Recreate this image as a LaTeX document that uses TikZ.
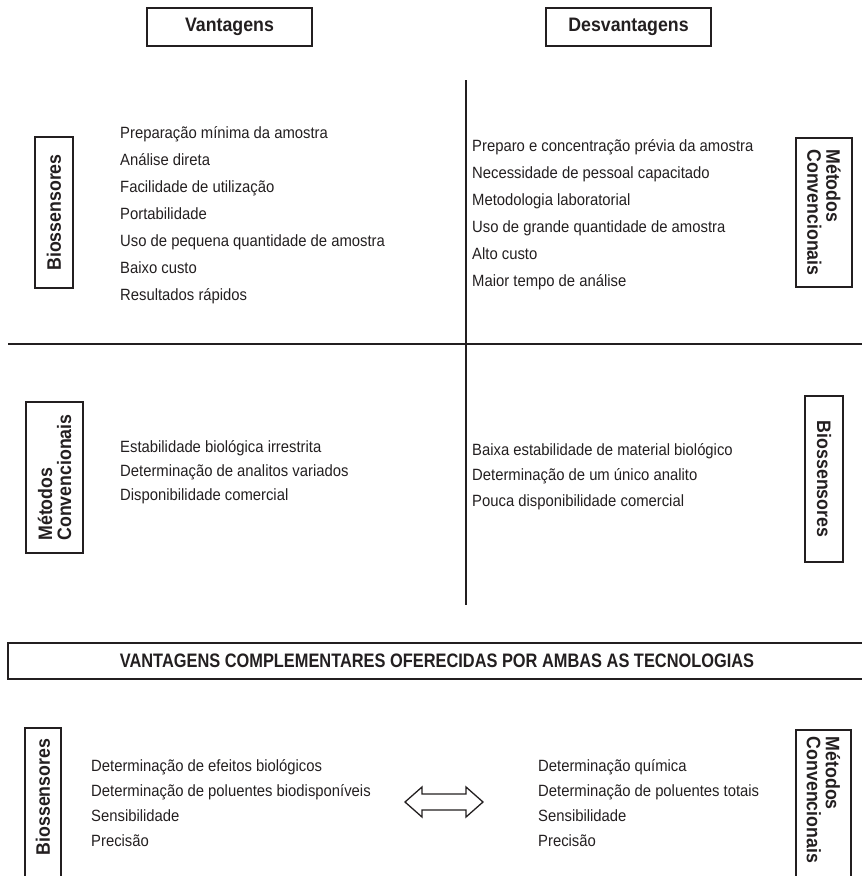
\documentclass[tikz,border=0pt]{standalone}
\usepackage{fontspec}
\setmainfont{Liberation Sans}[FakeStretch=0.91]
\newfontfamily\bannerfont{Liberation Sans}[FakeStretch=0.84]
\definecolor{ink}{HTML}{231F20}
\newcommand\myBody{\fontsize{16.3}{27}\selectfont}
\newcommand\myHead{\fontsize{19.5}{20}\selectfont\bfseries}
\newcommand\myBanner{\bannerfont\fontsize{19.5}{20}\selectfont\bfseries}
\begin{document}
\begin{tikzpicture}[x=1pt,y=-1pt,
  every node/.style={text=ink},
  frame/.style={draw=ink, line width=1.6pt},
  headbox/.style={frame, font=\myHead, minimum width=165pt, minimum height=38pt, inner sep=0pt},
  sidebox/.style={frame, font=\myHead, align=left, inner sep=0pt},
  sidetext/.style={font=\myHead, align=left, inner sep=0pt},
  listtext/.style={anchor=base west, inner sep=0pt, font=\myBody},
  crossline/.style={draw=ink, line width=2.4pt}]
\useasboundingbox (0,0) rectangle (862,876);

% header boxes
\node[headbox] (vant) at (229.5,27) {Vantagens};
\node[headbox] (desv) at (628.5,27) {Desvantagens};

% cross lines
\coordinate (vtop) at (466,80);
\coordinate (vbot) at (466,605);
\coordinate (hl) at (8,344);
\coordinate (hr) at (862,344);
\draw[crossline] (vtop) -- (vbot);
\draw[crossline] (hl) -- (hr);

% side boxes, upper half
\node[sidebox, rotate=90, minimum width=151pt, minimum height=38pt] (bioTL) at (54,212.5) {Biossensores};
\node[sidebox, rotate=-90, minimum width=149pt, minimum height=56pt] (metTR) at (824,212.5) {Métodos\\[-1pt]Convencionais};
% side boxes, lower half
\node[sidebox, rotate=90, minimum width=151pt, minimum height=57pt] (metBL) at (54.5,477.5) {Métodos\\[-1pt]Convencionais};
\node[sidebox, rotate=-90, minimum width=166pt, minimum height=38pt] (bioBR) at (824,479) {Biossensores};

% lists
\foreach \t [count=\i] in {Preparação mínima da amostra, Análise direta, Facilidade de utilização, Portabilidade, Uso de pequena quantidade de amostra, Baixo custo, Resultados rápidos}
  \node[listtext] (tl\i) at (120,{138+27*(\i-1)}) {\t};
\foreach \t [count=\i] in {Preparo e concentração prévia da amostra, Necessidade de pessoal capacitado, Metodologia laboratorial, Uso de grande quantidade de amostra, Alto custo, Maior tempo de análise}
  \node[listtext] (tr\i) at (472,{151+27*(\i-1)}) {\t};
\foreach \t [count=\i] in {Estabilidade biológica irrestrita, Determinação de analitos variados, Disponibilidade comercial}
  \node[listtext] (bl\i) at (120,{452+24*(\i-1)}) {\t};
\foreach \t [count=\i] in {Baixa estabilidade de material biológico, Determinação de um único analito, Pouca disponibilidade comercial}
  \node[listtext] (br\i) at (472,{455+25.5*(\i-1)}) {\t};

% banner
\draw[frame] (870,643) -| (8,679) -- (870,679);
\node[font=\myBanner, inner sep=0pt] (banner) at (437,661) {VANTAGENS COMPLEMENTARES OFERECIDAS POR AMBAS AS TECNOLOGIAS};

% bottom boxes (open at the bottom edge)
\draw[frame] (25,890) |- (61,728) -- (61,890);
\node[sidetext, rotate=90] (bioB) at (43,797) {Biossensores};
\draw[frame] (796,890) |- (851,730) -- (851,890);
\node[sidetext, rotate=-90] (metB) at (823.5,800) {Métodos\\[-1pt]Convencionais};

% bottom lists
\foreach \t [count=\i] in {Determinação de efeitos biológicos, Determinação de poluentes biodisponíveis, Sensibilidade, Precisão}
  \node[listtext] (bbl\i) at (91,{771+25*(\i-1)}) {\t};
\foreach \t [count=\i] in {Determinação química, Determinação de poluentes totais, Sensibilidade, Precisão}
  \node[listtext] (bbr\i) at (538,{771+25*(\i-1)}) {\t};

% double arrow (outlined)
\draw[draw=ink, line width=1.3pt, line join=miter, fill=white]
  (405,802) -- (422,787) -- (422,794) -- (466,794) -- (466,787) -- (483,802)
  -- (466,817) -- (466,810) -- (422,810) -- (422,817) -- cycle;
\end{tikzpicture}
\end{document}
